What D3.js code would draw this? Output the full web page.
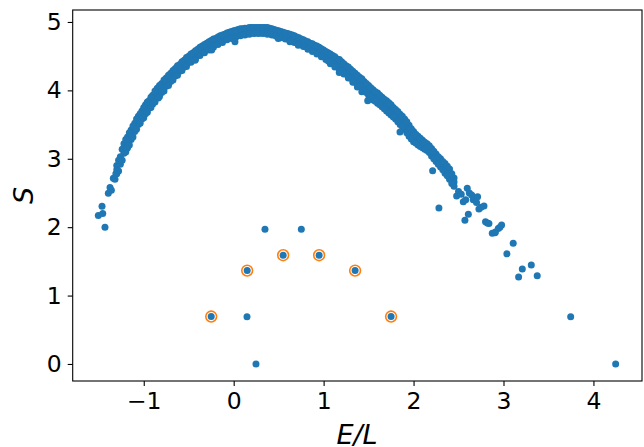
<!DOCTYPE html>
<html>
<head>
<meta charset="utf-8">
<script src="https://cdnjs.cloudflare.com/ajax/libs/d3/7.8.5/d3.min.js"></script>
<style>
html, body { margin: 0; padding: 0; background: #fff; }
svg { display: block; }
text { font-family: "DejaVu Sans"; fill: #000; }
</style>
</head>
<body>
<div id="chart"></div>
<script>
var bandE = [-1.30,-1.26,-1.22,-1.18,-1.14,-1.10,-1.06,-1.02,-0.98,-0.94,-0.90,-0.85,-0.80,-0.75,-0.70,-0.65,-0.60,-0.55,-0.50,-0.45,-0.40,-0.35,-0.30,-0.25,-0.20,-0.15,-0.10,-0.05,0.00,0.05,0.10,0.15,0.20,0.25,0.30,0.35,0.40,0.45,0.50,0.55,0.60,0.65,0.70,0.75,0.80,0.85,0.90,0.95,1.00,1.05,1.10,1.15,1.20,1.25,1.30,1.35,1.40,1.45,1.50,1.55,1.60,1.65,1.70,1.75,1.80,1.85,1.90,1.95,2.00,2.05,2.10,2.15,2.20,2.25,2.30,2.35,2.40,2.45];
var bandTop = [2.90,3.03,3.22,3.32,3.42,3.52,3.62,3.70,3.79,3.85,3.93,4.03,4.10,4.18,4.25,4.32,4.38,4.44,4.50,4.55,4.60,4.65,4.69,4.73,4.76,4.80,4.82,4.85,4.87,4.89,4.90,4.91,4.92,4.92,4.92,4.92,4.91,4.89,4.87,4.85,4.83,4.81,4.78,4.75,4.72,4.69,4.66,4.63,4.59,4.55,4.51,4.46,4.42,4.36,4.31,4.25,4.19,4.13,4.07,4.01,3.96,3.90,3.85,3.79,3.72,3.65,3.58,3.49,3.40,3.33,3.27,3.22,3.15,3.07,3.00,2.93,2.85,2.72];
var bandMid = [2.84,2.97,3.15,3.24,3.35,3.46,3.56,3.64,3.72,3.80,3.86,3.96,4.03,4.12,4.19,4.26,4.33,4.39,4.45,4.50,4.55,4.60,4.64,4.68,4.72,4.75,4.78,4.81,4.83,4.85,4.86,4.87,4.88,4.88,4.88,4.88,4.87,4.85,4.83,4.81,4.79,4.77,4.74,4.71,4.68,4.65,4.62,4.58,4.54,4.50,4.46,4.40,4.35,4.30,4.25,4.18,4.12,4.06,4.00,3.93,3.88,3.83,3.77,3.71,3.65,3.57,3.50,3.41,3.32,3.26,3.21,3.17,3.09,3.01,2.94,2.86,2.77,2.66];
var bandBottom = [2.78,2.92,3.08,3.16,3.28,3.40,3.50,3.58,3.66,3.74,3.80,3.90,3.97,4.06,4.13,4.21,4.28,4.34,4.41,4.46,4.51,4.56,4.60,4.64,4.68,4.71,4.74,4.77,4.79,4.81,4.82,4.83,4.84,4.84,4.84,4.84,4.83,4.81,4.80,4.78,4.76,4.74,4.71,4.67,4.64,4.61,4.58,4.54,4.50,4.46,4.41,4.35,4.29,4.24,4.18,4.12,4.06,4.00,3.93,3.86,3.81,3.76,3.70,3.64,3.58,3.50,3.43,3.33,3.25,3.20,3.16,3.12,3.04,2.96,2.88,2.79,2.70,2.60];

// second pass over the band, in between the first readings
var band2E = [-1.28,-1.24,-1.20,-1.16,-1.12,-1.08,-1.04,-1.00,-0.96,-0.92,-0.875,-0.825,-0.775,-0.725,-0.675,-0.625,-0.575,-0.525,-0.475,-0.425,-0.375,-0.325,-0.275,-0.225,-0.175,-0.125,-0.075,-0.025,0.025,0.075,0.125,0.175,0.225,0.275,0.325,0.375,0.425,0.475,0.525,0.575,0.625,0.675,0.725,0.775,0.825,0.875,0.925,0.975,1.025,1.075,1.125,1.175,1.225,1.275,1.325,1.375,1.425,1.475,1.525,1.575,1.625,1.675,1.725,1.775,1.825,1.875,1.925,1.975,2.025,2.075,2.125,2.175,2.225,2.275,2.325,2.375,2.425];
var band2Top = [2.98,3.14,3.28,3.38,3.48,3.58,3.66,3.75,3.83,3.90,3.99,4.07,4.15,4.22,4.29,4.36,4.42,4.48,4.53,4.58,4.63,4.67,4.71,4.75,4.78,4.81,4.84,4.86,4.88,4.90,4.91,4.92,4.92,4.92,4.92,4.92,4.90,4.88,4.86,4.84,4.82,4.80,4.77,4.74,4.71,4.68,4.65,4.61,4.57,4.53,4.49,4.45,4.39,4.34,4.28,4.22,4.17,4.10,4.04,3.98,3.93,3.87,3.82,3.75,3.69,3.62,3.54,3.44,3.36,3.30,3.24,3.19,3.11,3.03,2.96,2.89,2.78];
var band2Bottom = [2.82,2.98,3.10,3.20,3.32,3.43,3.52,3.60,3.68,3.75,3.83,3.91,3.99,4.07,4.15,4.22,4.29,4.35,4.41,4.45,4.51,4.55,4.59,4.63,4.67,4.70,4.74,4.76,4.78,4.80,4.81,4.82,4.83,4.83,4.83,4.82,4.81,4.79,4.77,4.75,4.72,4.70,4.67,4.64,4.60,4.57,4.53,4.49,4.45,4.39,4.34,4.29,4.24,4.18,4.12,4.05,3.98,3.97,3.90,3.84,3.79,3.73,3.67,3.61,3.54,3.47,3.38,3.29,3.23,3.18,3.14,3.09,3.00,2.92,2.84,2.75,2.64];

// single points away from the band
var strayE = [-1.505,-1.456,-1.464,-1.431,-1.394,-1.375,-1.36,-1.338,-1.32,-1.31,-1.190,-0.838,-0.430,-0.245,0.014,0.496,0.626,0.718,1.052,1.174,1.490,1.849,2.212,2.282,2.479,2.50,2.53,2.553,2.571,2.58,2.597,2.609,2.62,2.646,2.664,2.68,2.70,2.712,2.727,2.75,2.783,2.800,2.82,2.838,2.875,2.905,2.91,2.942,2.96,2.979,3.038,3.108,3.168,3.209,3.309,3.375,3.747,4.247,0.348,0.752,0.148,0.248];
var strayS = [2.17,2.20,2.305,2.00,2.495,2.58,2.54,2.715,2.70,2.78,3.15,3.89,4.44,4.59,4.71,4.76,4.71,4.66,4.43,4.26,3.85,3.39,2.826,2.28,2.456,2.52,2.48,2.37,2.10,2.40,2.57,2.19,2.50,2.47,2.40,2.43,2.36,2.445,2.266,2.29,2.31,2.08,2.06,2.055,1.91,1.92,1.93,1.98,2.00,2.03,1.61,1.765,1.27,1.39,1.447,1.29,0.69,0.00,1.97,1.97,0.69,0.00];

// ringed points
var ringE = [-0.25,0.15,0.55,0.95,1.35,1.75];
var ringS = [0.693,1.365,1.59,1.59,1.365,0.693];

var xTicks = [-1,0,1,2,3,4];
var yTicks = [0,1,2,3,4,5];

var width = 644, height = 447;
var margin = {top: 10, right: 2, bottom: 66, left: 72.7};

var vis = d3.select("#chart").append("svg")
    .attr("width", width)
    .attr("height", height);

var x = d3.scaleLinear()
    .domain([-1.79, 4.54])
    .range([margin.left, width - margin.right]);

var y = d3.scaleLinear()
    .domain([-0.249, 5.175])
    .range([height - margin.bottom, margin.top]);

var dots = [];
bandE.forEach(function(e, i){
    dots.push({e: e, s: bandTop[i]});
    dots.push({e: e, s: bandMid[i]});
    dots.push({e: e, s: bandBottom[i]});
});
band2E.forEach(function(e, i){
    dots.push({e: e, s: band2Top[i]});
    dots.push({e: e, s: band2Bottom[i]});
});
strayE.forEach(function(e, i){
    dots.push({e: e, s: strayS[i]});
});
ringE.forEach(function(e, i){
    dots.push({e: e, s: ringS[i]});
});

vis.selectAll("circle.dot")
    .data(dots)
    .enter()
    .append("circle")
    .attr("class", "dot")
    .attr("cx", function(d) { return x(d.e); })
    .attr("cy", function(d) { return y(d.s); })
    .attr("r", 3.5)
    .attr("fill", "#1f77b4");

vis.selectAll("circle.ring")
    .data(ringE)
    .enter()
    .append("circle")
    .attr("class", "ring")
    .attr("cx", function(d) { return x(d); })
    .attr("cy", function(d, i) { return y(ringS[i]); })
    .attr("r", 5.4)
    .attr("fill", "none")
    .attr("stroke", "#ff7f0e")
    .attr("stroke-width", 1.6);

var fmt = function(d) { return d < 0 ? "\u2212" + Math.abs(d) : "" + d; };

var x_axis = d3.axisBottom(x)
    .tickValues(xTicks)
    .tickSize(5)
    .tickPadding(6)
    .tickFormat(fmt);

var y_axis = d3.axisLeft(y)
    .tickValues(yTicks)
    .tickSize(5)
    .tickPadding(6)
    .tickFormat(fmt);

var gx = vis.append("g")
    .attr("transform", "translate(0," + (height - margin.bottom) + ")")
    .call(x_axis);

var gy = vis.append("g")
    .attr("transform", "translate(" + margin.left + ",0)")
    .call(y_axis);

[gx, gy].forEach(function(g){
    g.select(".domain").remove();
    g.selectAll(".tick line").attr("stroke", "#000").attr("stroke-width", 1.1);
    g.selectAll(".tick text").attr("font-family", "DejaVu Sans").attr("font-size", 23.5).attr("fill", "#000");
});

// frame
vis.append("rect")
    .attr("x", margin.left)
    .attr("y", margin.top)
    .attr("width", width - margin.right - margin.left)
    .attr("height", height - margin.bottom - margin.top)
    .attr("fill", "none")
    .attr("stroke", "#000")
    .attr("stroke-width", 1.1);

vis.append("text")
    .attr("x", 357)
    .attr("y", 444)
    .attr("text-anchor", "middle")
    .attr("font-size", 27)
    .attr("font-style", "italic")
    .text("E/L");

vis.append("text")
    .attr("transform", "translate(33,195.5) rotate(-90)")
    .attr("text-anchor", "middle")
    .attr("font-size", 27)
    .attr("font-style", "italic")
    .text("S");
</script>
</body>
</html>
